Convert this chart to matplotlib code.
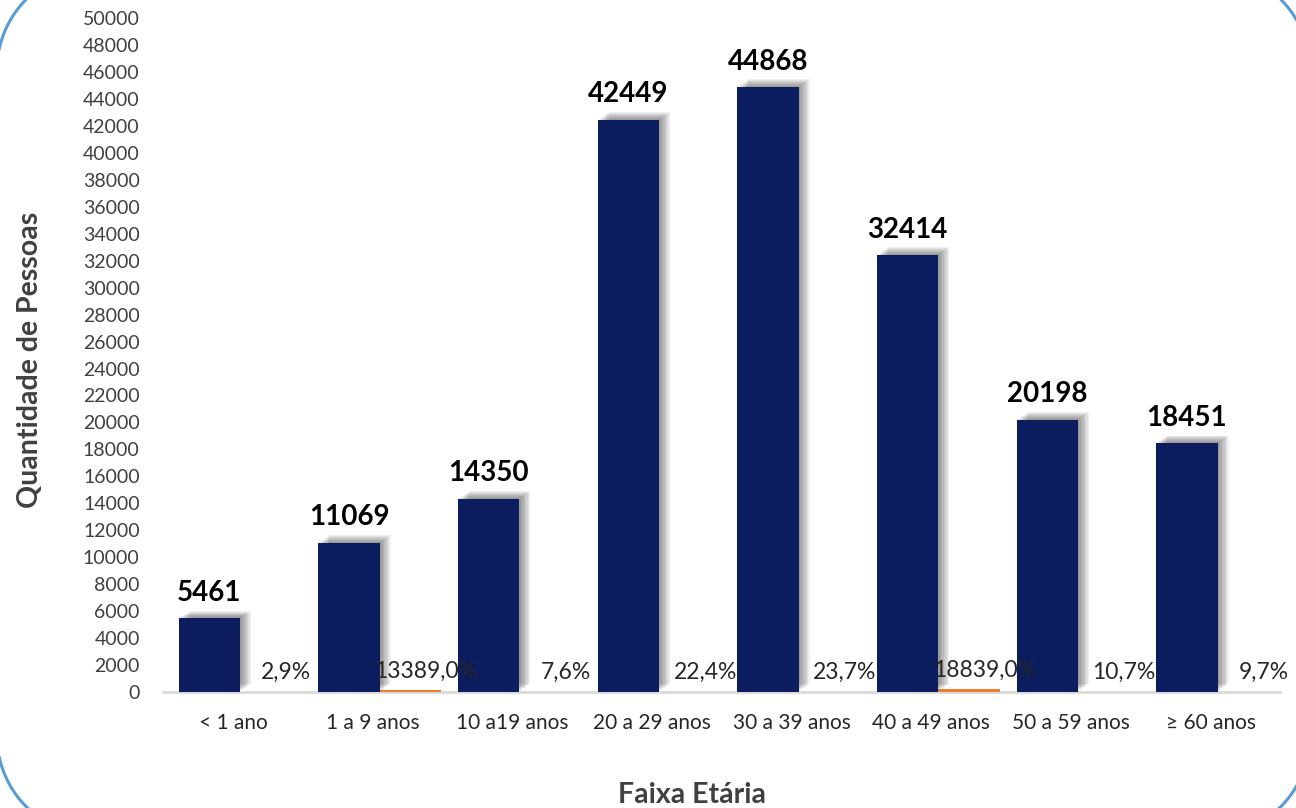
import matplotlib
matplotlib.use('Agg')
import numpy as np
import matplotlib.pyplot as plt
import matplotlib.patheffects as pe
from matplotlib.patches import PathPatch
from matplotlib.path import Path
from matplotlib.transforms import IdentityTransform

# data
faixas = ['< 1 ano', '1 a 9 anos', '10 a19 anos', '20 a 29 anos', '30 a 39 anos',
          '40 a 49 anos', '50 a 59 anos', '≥ 60 anos']
pessoas = [5461, 11069, 14350, 42449, 44868, 32414, 20198, 18451]
percentual = [2.9, 13389.0, 7.6, 22.4, 23.7, 18839.0, 10.7, 9.7]
y_ticks = list(range(0, 50001, 2000))

plt.rcParams['font.family'] = ['Lato', 'DejaVu Sans']

fig = plt.figure(figsize=(12.96, 8.08), dpi=100)
ax = fig.add_axes([0.126, 0.1436, 0.862, 0.834])

x = range(len(faixas))
w = 0.44

# soft shadow like the excel one
shadow = [pe.SimplePatchShadow(offset=(k, k * 0.7), shadow_rgbFace='black', alpha=0.06)
          for k in range(1, 9)] + [pe.Normal()]

bars = ax.bar([i - 0.17 for i in x], pessoas, width=w, color='#0b1d5f', zorder=3)
for b in bars:
    b.set_path_effects(shadow)

ax.bar([i - 0.17 + w for i in x], [p / 100 for p in percentual], width=w,
       color='#ed7d31', zorder=2)

for i, v in zip(x, pessoas):
    ax.annotate(str(v), (i - 0.17, v), xytext=(0, 9), textcoords='offset points',
                ha='center', va='bottom', fontsize=20, fontweight='bold', color='black')

for i, p in zip(x, percentual):
    txt = f'{p:.1f}'.replace('.', ',') + '%'
    ax.text(i + 0.38, p / 100 + 650, txt, ha='center', va='bottom', fontsize=16.5,
            color='#262626', zorder=5)

ax.set_xlim(-0.5, 7.5)
ax.set_ylim(0, 50000)
ax.set_yticks(y_ticks)
ax.set_xticks(list(x))
ax.set_xticklabels(faixas)
ax.tick_params(axis='y', length=0, pad=17, labelsize=14, labelcolor='#404040')
ax.tick_params(axis='x', length=0, pad=15, labelsize=15, labelcolor='#262626')

for s in ['left', 'right', 'top']:
    ax.spines[s].set_visible(False)
ax.spines['bottom'].set_color('#d9d9d9')
ax.spines['bottom'].set_linewidth(2)
ax.spines['bottom'].set_zorder(1)

fig.text(0.023, 0.555, 'Quantidade de Pessoas', rotation=90, ha='center', va='center',
         fontsize=20.5, fontweight='bold', color='#404040')
fig.text(0.534, 0.016, 'Faixa Etária', ha='center', va='center',
         fontsize=20.5, fontweight='bold', color='#404040')

# rounded blue frame (pixel coords), mostly outside the canvas
x0, x1, y0, y1, r = -3, 1310, -28, 838, 100
pts = []
for cx, cy, a0 in [(x1 - r, y1 - r, 0), (x0 + r, y1 - r, 90),
                   (x0 + r, y0 + r, 180), (x1 - r, y0 + r, 270)]:
    t = np.radians(np.linspace(a0, a0 + 90, 40))
    pts += list(zip(cx + r * np.cos(t), cy + r * np.sin(t)))
pts.append(pts[0])
frame = PathPatch(Path(pts), transform=IdentityTransform(), facecolor='none',
                  edgecolor='#5b9bd5', linewidth=2.2, clip_on=False)
fig.patches.append(frame)

fig.savefig('out.png', dpi=100)
